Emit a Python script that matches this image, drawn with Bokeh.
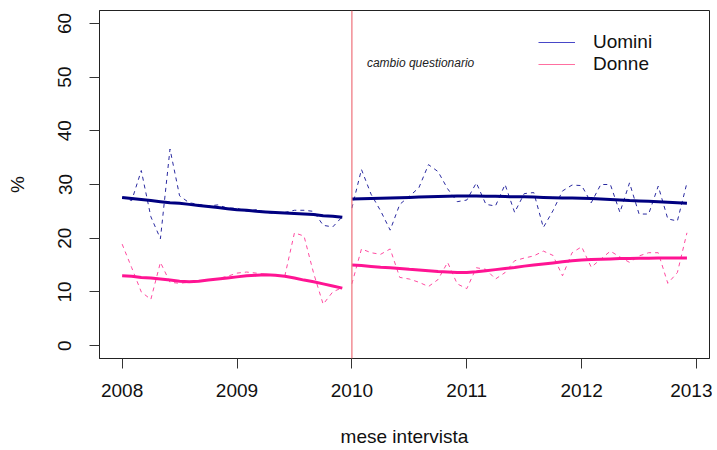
from bokeh.plotting import figure
from bokeh.models import Range1d, FixedTicker, Span, Label, Legend, LegendItem
from bokeh.embed import file_html
from bokeh.resources import INLINE

# ---- data ----
start_p1 = 2008
start_p2 = 2010
x_p1 = [start_p1 + m / 12 for m in range(24)]
x_p2 = [start_p2 + m / 12 for m in range(36)]

uomini_p1 = [27.6, 27.0, 32.6, 24.0, 19.9, 36.6, 27.9, 26.6, 26.3, 26.0, 26.2, 25.6,
             25.6, 25.0, 25.3, 24.8, 24.6, 24.8, 25.2, 25.2, 25.0, 22.4, 22.1, 24.0]
uomini_trend_p1 = [27.6, 27.4, 27.2, 27.0, 26.8, 26.6, 26.5, 26.3, 26.1, 25.9, 25.7, 25.5,
                   25.3, 25.2, 25.0, 24.9, 24.8, 24.7, 24.6, 24.5, 24.4, 24.2, 24.1, 23.9]
donne_p1 = [18.9, 14.5, 10.0, 8.6, 15.5, 11.8, 11.6, 11.8, 12.0, 12.2, 12.5, 12.9,
            13.5, 13.7, 13.5, 13.3, 13.1, 13.0, 21.0, 20.4, 13.5, 7.7, 10.0, 10.8]
donne_trend_p1 = [13.0, 12.9, 12.7, 12.6, 12.4, 12.2, 12.0, 11.9, 12.0, 12.2, 12.4, 12.6,
                  12.8, 13.0, 13.1, 13.2, 13.1, 12.9, 12.6, 12.2, 11.9, 11.5, 11.1, 10.7]

uomini_p2 = [25.6, 32.8, 28.2, 25.1, 21.5, 26.3, 27.8, 29.4, 33.7, 32.4, 29.2, 26.8,
             27.1, 30.3, 26.3, 26.0, 30.0, 24.8, 28.3, 28.5, 22.0, 25.1, 28.8, 29.9,
             29.8, 26.6, 30.0, 30.0, 24.8, 30.3, 24.5, 24.5, 29.7, 23.6, 23.2, 30.3]
uomini_trend_p2 = [27.3, 27.35, 27.4, 27.45, 27.5, 27.55, 27.6, 27.65, 27.7, 27.75, 27.8, 27.85,
                   27.85, 27.85, 27.8, 27.8, 27.75, 27.7, 27.7, 27.65, 27.6, 27.55, 27.5, 27.5,
                   27.45, 27.4, 27.3, 27.2, 27.1, 27.0, 26.95, 26.9, 26.8, 26.7, 26.6, 26.5]
donne_p2 = [11.5, 18.0, 17.3, 17.0, 18.0, 12.7, 12.4, 11.8, 11.0, 12.3, 15.5, 11.5,
            10.6, 14.5, 14.2, 12.4, 13.6, 15.8, 16.3, 16.7, 17.6, 16.8, 13.0, 17.3,
            18.4, 14.6, 16.1, 17.6, 16.5, 15.5, 16.7, 17.3, 17.3, 11.6, 13.6, 21.0]
donne_trend_p2 = [15.0, 14.9, 14.75, 14.6, 14.5, 14.35, 14.2, 14.1, 13.95, 13.8, 13.7, 13.6,
                  13.6, 13.75, 13.95, 14.15, 14.35, 14.55, 14.8, 15.0, 15.2, 15.4, 15.6, 15.8,
                  15.95, 16.05, 16.1, 16.15, 16.2, 16.2, 16.25, 16.25, 16.3, 16.3, 16.3, 16.3]

x_ticks = [2008, 2009, 2010, 2011, 2012, 2013]
y_ticks = [0, 10, 20, 30, 40, 50, 60]
break_year = 2010
series_labels = ["Uomini", "Donne"]
note_text = "cambio questionario"
note_y = 52.6

# ---- styles ----
FONT = "Liberation Sans"
NAVY = "#000080"
NAVY_DASH = "#2a2aa0"
PINK = "#ff1493"
PINK_DASH = "#ff4aa0"
LEG_BLUE = "#4848c8"
LEG_PINK = "#ff6fa0"

p = figure(width=712, height=449, output_backend="svg", toolbar_location=None,
           x_range=Range1d(2007.803, 2013.113), y_range=Range1d(-2.4, 62.4),
           min_border_left=99, min_border_right=3, min_border_top=10, min_border_bottom=91)
p.grid.visible = False
p.outline_line_color = "#222222"
p.outline_line_width = 1
p.background_fill_color = "white"
p.border_fill_color = "white"

for ax, ticks in ((p.xaxis[0], x_ticks), (p.yaxis[0], y_ticks)):
    ax.ticker = FixedTicker(ticks=ticks)
    ax.major_tick_out = 10
    ax.major_tick_in = 0
    ax.minor_tick_out = 0
    ax.minor_tick_in = 0
    ax.axis_line_color = "#222222"
    ax.major_tick_line_color = "#333333"
    ax.major_label_text_font = FONT
    ax.major_label_text_font_size = "19px"
    ax.major_label_text_color = "#111111"
    ax.axis_label_text_font = FONT
    ax.axis_label_text_font_size = "19px"
    ax.axis_label_text_font_style = "normal"
    ax.axis_label_text_color = "#111111"

p.xaxis.major_label_standoff = 15
p.xaxis.axis_label = "mese intervista"
p.xaxis.axis_label_standoff = 26
p.yaxis.major_label_orientation = "vertical"
p.yaxis.major_label_standoff = 18
p.yaxis.axis_label = "%"
p.yaxis.axis_label_standoff = 28

p.add_layout(Span(location=break_year, dimension="height", line_color="#f07c84", line_width=1.3))

# dashed monthly series
p.line(x_p1, uomini_p1, line_color=NAVY_DASH, line_width=1, line_dash="4 4")
p.line(x_p2, uomini_p2, line_color=NAVY_DASH, line_width=1, line_dash="4 4")
p.line(x_p1, donne_p1, line_color=PINK_DASH, line_width=1, line_dash="4 4")
p.line(x_p2, donne_p2, line_color=PINK_DASH, line_width=1, line_dash="4 4")
# smoothed trends
p.line(x_p1, uomini_trend_p1, line_color=NAVY, line_width=3)
p.line(x_p2, uomini_trend_p2, line_color=NAVY, line_width=3)
p.line(x_p1, donne_trend_p1, line_color=PINK, line_width=3)
p.line(x_p2, donne_trend_p2, line_color=PINK, line_width=3)

p.add_layout(Label(x=break_year, y=note_y, x_offset=15, text=note_text,
                   text_font=FONT, text_font_size="12px", text_font_style="italic",
                   text_color="#222222", text_baseline="middle"))

# legend keys: hidden renderers carrying the legend line style
leg_u = p.line(x_p1, uomini_p1, line_color=LEG_BLUE, line_width=1.2, visible=False)
leg_d = p.line(x_p1, donne_p1, line_color=LEG_PINK, line_width=1.2, visible=False)
legend = Legend(items=[LegendItem(label=series_labels[0], renderers=[leg_u]),
                       LegendItem(label=series_labels[1], renderers=[leg_d])],
                location=(439, 283), orientation="vertical",
                glyph_width=37, glyph_height=22, label_height=22, label_width=60,
                spacing=0, padding=0, margin=0, label_standoff=18,
                label_text_font=FONT, label_text_font_size="19px", label_text_color="#111111",
                border_line_color=None, background_fill_alpha=0, click_policy="none")
p.add_layout(legend)

open("out.html", "w").write(file_html(p, INLINE))
